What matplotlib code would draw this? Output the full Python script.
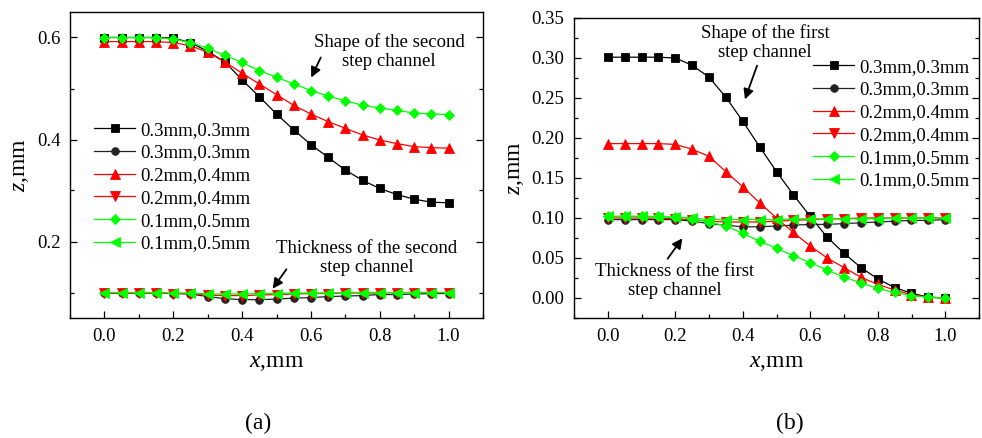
import numpy as np
import matplotlib
matplotlib.use("Agg")
import matplotlib.pyplot as plt
from matplotlib.ticker import MultipleLocator, FormatStrFormatter

plt.rcParams['font.family'] = ['Liberation Serif', 'DejaVu Serif']
plt.rcParams['mathtext.fontset'] = 'custom'
plt.rcParams['mathtext.rm'] = 'Liberation Serif'
plt.rcParams['mathtext.it'] = 'Liberation Serif:italic'

x = np.round(np.arange(0, 1.0001, 0.05), 2)
labels = ['0.3mm,0.3mm', '0.3mm,0.3mm', '0.2mm,0.4mm',
          '0.2mm,0.4mm', '0.1mm,0.5mm', '0.1mm,0.5mm']

# (a) second step channel: shape and thickness
a_sq = [0.600, 0.600, 0.600, 0.600, 0.599, 0.590, 0.573, 0.552, 0.517, 0.484, 0.450,
        0.419, 0.390, 0.365, 0.340, 0.320, 0.304, 0.292, 0.283, 0.277, 0.276]
a_ci = [0.099, 0.099, 0.099, 0.099, 0.098, 0.097, 0.092, 0.088, 0.086, 0.086, 0.087,
        0.089, 0.090, 0.092, 0.093, 0.094, 0.096, 0.096, 0.097, 0.098, 0.098]
a_up = [0.592, 0.592, 0.592, 0.592, 0.590, 0.584, 0.571, 0.552, 0.530, 0.509, 0.488,
        0.467, 0.450, 0.435, 0.422, 0.409, 0.399, 0.392, 0.386, 0.384, 0.383]
a_dn = [0.099, 0.099, 0.099, 0.099, 0.098, 0.098, 0.095, 0.094, 0.094, 0.095, 0.096,
        0.097, 0.098, 0.098, 0.099, 0.099, 0.099, 0.100, 0.100, 0.100, 0.100]
a_di = [0.600, 0.600, 0.600, 0.600, 0.597, 0.590, 0.579, 0.565, 0.551, 0.535, 0.522,
        0.509, 0.496, 0.485, 0.476, 0.467, 0.462, 0.457, 0.452, 0.450, 0.449]
a_lt = [0.100, 0.100, 0.100, 0.100, 0.099, 0.099, 0.097, 0.097, 0.097, 0.098, 0.098,
        0.099, 0.099, 0.099, 0.100, 0.100, 0.100, 0.100, 0.100, 0.100, 0.100]

# (b) first step channel: shape and thickness
b_sq = [0.301, 0.301, 0.301, 0.301, 0.300, 0.291, 0.276, 0.251, 0.221, 0.189, 0.158,
        0.129, 0.102, 0.076, 0.056, 0.038, 0.024, 0.013, 0.006, 0.001, 0.000]
b_ci = [0.098, 0.098, 0.098, 0.098, 0.098, 0.096, 0.093, 0.091, 0.089, 0.089, 0.090,
        0.091, 0.092, 0.092, 0.093, 0.094, 0.095, 0.096, 0.097, 0.097, 0.098]
b_up = [0.193, 0.193, 0.193, 0.193, 0.192, 0.186, 0.177, 0.158, 0.139, 0.119, 0.100,
        0.082, 0.065, 0.050, 0.038, 0.026, 0.017, 0.010, 0.004, 0.001, 0.000]
b_dn = [0.100, 0.100, 0.100, 0.100, 0.099, 0.098, 0.096, 0.095, 0.095, 0.095, 0.096,
        0.097, 0.098, 0.099, 0.099, 0.100, 0.100, 0.100, 0.100, 0.100, 0.100]
b_di = [0.102, 0.102, 0.102, 0.102, 0.101, 0.099, 0.095, 0.090, 0.081, 0.071, 0.062,
        0.053, 0.044, 0.035, 0.026, 0.019, 0.012, 0.007, 0.003, 0.001, 0.000]
b_lt = [0.102, 0.102, 0.102, 0.101, 0.101, 0.100, 0.098, 0.098, 0.098, 0.098, 0.098,
        0.099, 0.099, 0.099, 0.099, 0.099, 0.099, 0.100, 0.100, 0.100, 0.100]

styles = [('k', 's', 5.5), ('#222222', 'o', 5.5), ('r', '^', 6.5),
          ('r', 'v', 6.5), ('#00ff00', 'D', 5.5), ('#00ff00', '<', 6.5)]

fig = plt.figure(figsize=(9.82, 4.38), dpi=100)
W, H = 982, 438
axa = fig.add_axes([70 / W, 1 - 318 / H, 413 / W, 306 / H])
axb = fig.add_axes([574 / W, 1 - 318 / H, 405 / W, 300 / H])


def draw(ax, series):
    for ys, (c, m, ms), lab in zip(series, styles, labels):
        ax.plot(x, ys, color=c, marker=m, markersize=ms, lw=0.9,
                markeredgewidth=0.6, label=lab)
    ax.set_xlim(-0.1, 1.1)
    ax.xaxis.set_major_locator(MultipleLocator(0.2))
    ax.xaxis.set_minor_locator(MultipleLocator(0.1))
    ax.xaxis.set_major_formatter(FormatStrFormatter('%.1f'))
    ax.tick_params(which='both', direction='in', right=True, labelsize=13.5, pad=7)
    ax.tick_params(which='major', length=5, width=0.9)
    ax.tick_params(which='minor', length=3, width=0.9)
    for s in ax.spines.values():
        s.set_linewidth(1.0)
    ax.set_xlabel('$x$,mm', fontsize=17, labelpad=5)
    ax.set_ylabel('$z$,mm', fontsize=17, labelpad=4)


draw(axa, [a_sq, a_ci, a_up, a_dn, a_di, a_lt])
axa.set_ylim(0.05, 0.65)
axa.yaxis.set_major_locator(MultipleLocator(0.2))
axa.yaxis.set_minor_locator(MultipleLocator(0.1))
axa.yaxis.set_major_formatter(FormatStrFormatter('%.1f'))

draw(axb, [b_sq, b_ci, b_up, b_dn, b_di, b_lt])
axb.set_ylim(-0.025, 0.35)
axb.yaxis.set_major_locator(MultipleLocator(0.05))
axb.yaxis.set_minor_locator(MultipleLocator(0.025))
axb.yaxis.set_major_formatter(FormatStrFormatter('%.2f'))

leg_kw = dict(frameon=False, fontsize=13.5, handlelength=2.2, handletextpad=0.25,
              labelspacing=0.3, borderpad=0, borderaxespad=0, loc='center left',
              bbox_transform=fig.transFigure)
axa.legend(bbox_to_anchor=(94 / W, 1 - 187 / H), **leg_kw)
axb.legend(bbox_to_anchor=(813 / W, 1 - 124 / H), **leg_kw)

arr = dict(arrowstyle='-|>,head_length=0.6,head_width=0.3', color='k', lw=1.3)
axa.annotate('', xy=(310 / W, 1 - 80 / H), xytext=(322 / W, 1 - 55 / H),
             xycoords='figure fraction', arrowprops=arr)
axa.annotate('', xy=(271 / W, 1 - 291 / H), xytext=(288 / W, 1 - 267 / H),
             xycoords='figure fraction', arrowprops=arr)
axb.annotate('', xy=(744 / W, 1 - 102 / H), xytext=(758 / W, 1 - 63 / H),
             xycoords='figure fraction', arrowprops=arr)
axb.annotate('', xy=(684 / W, 1 - 236 / H), xytext=(666 / W, 1 - 261 / H),
             xycoords='figure fraction', arrowprops=arr)

txt = dict(fontsize=13.5, ha='center', va='center', linespacing=1.15)
fig.text(389 / W, 1 - 52 / H, 'Shape of the second\nstep channel', **txt)
fig.text(367 / W, 1 - 258 / H, 'Thickness of the second\nstep channel', **txt)
fig.text(765 / W, 1 - 43 / H, 'Shape of the first\nstep channel', **txt)
fig.text(675 / W, 1 - 281 / H, 'Thickness of the first\nstep channel', **txt)

fig.text(258 / W, 1 - 423 / H, '(a)', fontsize=17, ha='center', va='center')
fig.text(790 / W, 1 - 423 / H, '(b)', fontsize=17, ha='center', va='center')

fig.savefig('out.png', dpi=100)
